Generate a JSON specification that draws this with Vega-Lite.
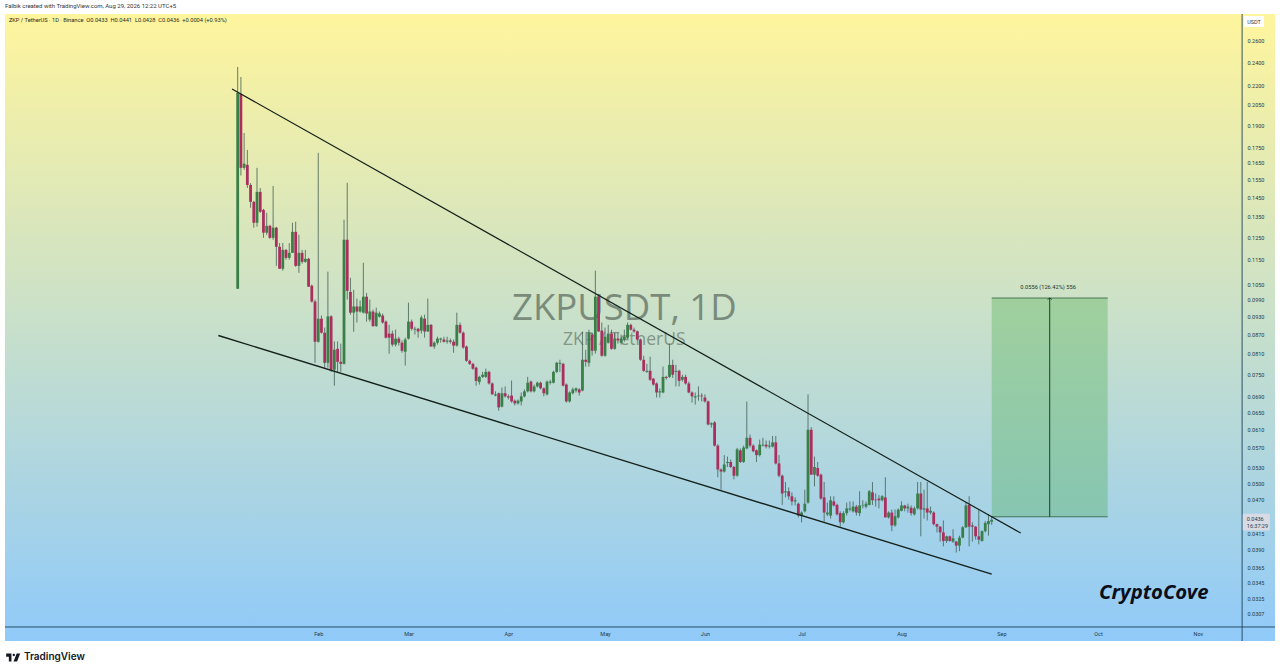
{
  "$schema": "https://vega.github.io/schema/vega-lite/v6.json",
  "description": "ZKP / TetherUS daily candles with a falling wedge and a target box.",
  "background": "#ffffff",
  "autosize": {"type": "none"},
  "padding": {"left": 5, "right": 5, "top": 14, "bottom": 30},
  "width": 1270,
  "height": 627,
  "title": {
    "text": "Falbik created with TradingView.com, Aug 29, 2026 12:22 UTC+5",
    "anchor": "start",
    "frame": "group",
    "offset": 5,
    "fontSize": 6,
    "fontWeight": "normal",
    "font": "Roboto",
    "color": "#333333"
  },
  "config": {"view": {"stroke": "transparent"}},
  "datasets": {
    "candles": [
      {"d":"2026-01-07","o":0.1032,"h":0.2360,"l":0.1032,"c":0.2142},
      {"d":"2026-01-08","o":0.2134,"h":0.2273,"l":0.1574,"c":0.1620},
      {"d":"2026-01-09","o":0.1620,"h":0.1845,"l":0.1608,"c":0.1645},
      {"d":"2026-01-10","o":0.1638,"h":0.1732,"l":0.1503,"c":0.1520},
      {"d":"2026-01-11","o":0.1520,"h":0.1530,"l":0.1396,"c":0.1427},
      {"d":"2026-01-12","o":0.1427,"h":0.1432,"l":0.1296,"c":0.1320},
      {"d":"2026-01-13","o":0.1320,"h":0.1620,"l":0.1301,"c":0.1481},
      {"d":"2026-01-14","o":0.1481,"h":0.1503,"l":0.1370,"c":0.1375},
      {"d":"2026-01-15","o":0.1385,"h":0.1390,"l":0.1248,"c":0.1272},
      {"d":"2026-01-16","o":0.1272,"h":0.1370,"l":0.1262,"c":0.1305},
      {"d":"2026-01-17","o":0.1305,"h":0.1310,"l":0.1243,"c":0.1248},
      {"d":"2026-01-18","o":0.1248,"h":0.1514,"l":0.1239,"c":0.1296},
      {"d":"2026-01-19","o":0.1296,"h":0.1300,"l":0.1124,"c":0.1207},
      {"d":"2026-01-20","o":0.1207,"h":0.1224,"l":0.1112,"c":0.1112},
      {"d":"2026-01-21","o":0.1112,"h":0.1224,"l":0.1104,"c":0.1193},
      {"d":"2026-01-22","o":0.1193,"h":0.1197,"l":0.1150,"c":0.1158},
      {"d":"2026-01-23","o":0.1158,"h":0.1224,"l":0.1150,"c":0.1180},
      {"d":"2026-01-24","o":0.1180,"h":0.1320,"l":0.1180,"c":0.1276},
      {"d":"2026-01-25","o":0.1276,"h":0.1325,"l":0.1120,"c":0.1124},
      {"d":"2026-01-26","o":0.1124,"h":0.1262,"l":0.1095,"c":0.1180},
      {"d":"2026-01-27","o":0.1180,"h":0.1193,"l":0.1133,"c":0.1141},
      {"d":"2026-01-28","o":0.1141,"h":0.1193,"l":0.1137,"c":0.1154},
      {"d":"2026-01-29","o":0.1154,"h":0.1158,"l":0.1040,"c":0.1040},
      {"d":"2026-01-30","o":0.1044,"h":0.1048,"l":0.0980,"c":0.0984},
      {"d":"2026-01-31","o":0.0984,"h":0.0991,"l":0.0783,"c":0.0847},
      {"d":"2026-02-01","o":0.0847,"h":0.1713,"l":0.0844,"c":0.0923},
      {"d":"2026-02-02","o":0.0923,"h":0.0934,"l":0.0873,"c":0.0876},
      {"d":"2026-02-03","o":0.0876,"h":0.0893,"l":0.0769,"c":0.0783},
      {"d":"2026-02-04","o":0.0783,"h":0.1100,"l":0.0769,"c":0.0931},
      {"d":"2026-02-05","o":0.0931,"h":0.0935,"l":0.0757,"c":0.0763},
      {"d":"2026-02-06","o":0.0763,"h":0.0848,"l":0.0719,"c":0.0822},
      {"d":"2026-02-07","o":0.0825,"h":0.0848,"l":0.0757,"c":0.0786},
      {"d":"2026-02-08","o":0.0786,"h":0.0841,"l":0.0757,"c":0.0780},
      {"d":"2026-02-09","o":0.0780,"h":0.1335,"l":0.0778,"c":0.1239},
      {"d":"2026-02-10","o":0.1239,"h":0.1532,"l":0.0991,"c":0.1024},
      {"d":"2026-02-11","o":0.1020,"h":0.1075,"l":0.0937,"c":0.0944},
      {"d":"2026-02-12","o":0.0944,"h":0.1028,"l":0.0879,"c":0.0966},
      {"d":"2026-02-13","o":0.0966,"h":0.0995,"l":0.0910,"c":0.0948},
      {"d":"2026-02-14","o":0.0948,"h":0.0988,"l":0.0944,"c":0.0966},
      {"d":"2026-02-15","o":0.0944,"h":0.1137,"l":0.0941,"c":0.1002},
      {"d":"2026-02-16","o":0.1002,"h":0.1016,"l":0.0913,"c":0.0941},
      {"d":"2026-02-17","o":0.0920,"h":0.0991,"l":0.0913,"c":0.0948},
      {"d":"2026-02-18","o":0.0948,"h":0.0955,"l":0.0895,"c":0.0898},
      {"d":"2026-02-19","o":0.0898,"h":0.0962,"l":0.0895,"c":0.0944},
      {"d":"2026-02-20","o":0.0930,"h":0.0948,"l":0.0927,"c":0.0941},
      {"d":"2026-02-21","o":0.0934,"h":0.0941,"l":0.0906,"c":0.0910},
      {"d":"2026-02-22","o":0.0913,"h":0.0917,"l":0.0857,"c":0.0860},
      {"d":"2026-02-23","o":0.0873,"h":0.0902,"l":0.0810,"c":0.0860},
      {"d":"2026-02-24","o":0.0873,"h":0.0883,"l":0.0832,"c":0.0838},
      {"d":"2026-02-25","o":0.0838,"h":0.0886,"l":0.0832,"c":0.0857},
      {"d":"2026-02-26","o":0.0857,"h":0.0863,"l":0.0835,"c":0.0844},
      {"d":"2026-02-27","o":0.0844,"h":0.0851,"l":0.0813,"c":0.0819},
      {"d":"2026-02-28","o":0.0816,"h":0.0860,"l":0.0775,"c":0.0854},
      {"d":"2026-03-01","o":0.0857,"h":0.0980,"l":0.0854,"c":0.0913},
      {"d":"2026-03-02","o":0.0913,"h":0.0920,"l":0.0883,"c":0.0889},
      {"d":"2026-03-03","o":0.0886,"h":0.0896,"l":0.0870,"c":0.0889},
      {"d":"2026-03-04","o":0.0889,"h":0.0892,"l":0.0860,"c":0.0880},
      {"d":"2026-03-05","o":0.0883,"h":0.0934,"l":0.0873,"c":0.0927},
      {"d":"2026-03-06","o":0.0923,"h":0.0937,"l":0.0860,"c":0.0880},
      {"d":"2026-03-07","o":0.0880,"h":0.0995,"l":0.0879,"c":0.0902},
      {"d":"2026-03-08","o":0.0902,"h":0.0905,"l":0.0832,"c":0.0832},
      {"d":"2026-03-09","o":0.0832,"h":0.0848,"l":0.0825,"c":0.0844},
      {"d":"2026-03-10","o":0.0844,"h":0.0863,"l":0.0838,"c":0.0857},
      {"d":"2026-03-11","o":0.0854,"h":0.0860,"l":0.0844,"c":0.0857},
      {"d":"2026-03-12","o":0.0854,"h":0.0863,"l":0.0844,"c":0.0847},
      {"d":"2026-03-13","o":0.0847,"h":0.0863,"l":0.0841,"c":0.0851},
      {"d":"2026-03-14","o":0.0851,"h":0.0857,"l":0.0841,"c":0.0847},
      {"d":"2026-03-15","o":0.0847,"h":0.0854,"l":0.0813,"c":0.0835},
      {"d":"2026-03-16","o":0.0835,"h":0.0944,"l":0.0832,"c":0.0902},
      {"d":"2026-03-17","o":0.0902,"h":0.0910,"l":0.0873,"c":0.0876},
      {"d":"2026-03-18","o":0.0876,"h":0.0880,"l":0.0825,"c":0.0829},
      {"d":"2026-03-19","o":0.0832,"h":0.0835,"l":0.0786,"c":0.0789},
      {"d":"2026-03-20","o":0.0789,"h":0.0792,"l":0.0777,"c":0.0780},
      {"d":"2026-03-21","o":0.0780,"h":0.0783,"l":0.0763,"c":0.0766},
      {"d":"2026-03-22","o":0.0769,"h":0.0772,"l":0.0719,"c":0.0732},
      {"d":"2026-03-23","o":0.0729,"h":0.0746,"l":0.0722,"c":0.0743},
      {"d":"2026-03-24","o":0.0743,"h":0.0757,"l":0.0740,"c":0.0749},
      {"d":"2026-03-25","o":0.0743,"h":0.0766,"l":0.0740,"c":0.0757},
      {"d":"2026-03-26","o":0.0757,"h":0.0760,"l":0.0722,"c":0.0725},
      {"d":"2026-03-27","o":0.0725,"h":0.0728,"l":0.0696,"c":0.0696},
      {"d":"2026-03-28","o":0.0693,"h":0.0704,"l":0.0691,"c":0.0696},
      {"d":"2026-03-29","o":0.0699,"h":0.0701,"l":0.0655,"c":0.0663},
      {"d":"2026-03-30","o":0.0665,"h":0.0714,"l":0.0663,"c":0.0699},
      {"d":"2026-03-31","o":0.0699,"h":0.0717,"l":0.0688,"c":0.0691},
      {"d":"2026-04-01","o":0.0691,"h":0.0696,"l":0.0683,"c":0.0688},
      {"d":"2026-04-02","o":0.0693,"h":0.0733,"l":0.0675,"c":0.0678},
      {"d":"2026-04-03","o":0.0680,"h":0.0683,"l":0.0668,"c":0.0673},
      {"d":"2026-04-04","o":0.0673,"h":0.0683,"l":0.0670,"c":0.0680},
      {"d":"2026-04-05","o":0.0678,"h":0.0701,"l":0.0668,"c":0.0691},
      {"d":"2026-04-06","o":0.0691,"h":0.0709,"l":0.0688,"c":0.0704},
      {"d":"2026-04-07","o":0.0704,"h":0.0743,"l":0.0701,"c":0.0727},
      {"d":"2026-04-08","o":0.0730,"h":0.0733,"l":0.0701,"c":0.0704},
      {"d":"2026-04-09","o":0.0704,"h":0.0722,"l":0.0701,"c":0.0717},
      {"d":"2026-04-10","o":0.0717,"h":0.0730,"l":0.0714,"c":0.0727},
      {"d":"2026-04-11","o":0.0727,"h":0.0730,"l":0.0709,"c":0.0712},
      {"d":"2026-04-12","o":0.0712,"h":0.0714,"l":0.0691,"c":0.0699},
      {"d":"2026-04-13","o":0.0696,"h":0.0733,"l":0.0693,"c":0.0730},
      {"d":"2026-04-14","o":0.0727,"h":0.0735,"l":0.0722,"c":0.0730},
      {"d":"2026-04-15","o":0.0727,"h":0.0760,"l":0.0725,"c":0.0757},
      {"d":"2026-04-16","o":0.0757,"h":0.0786,"l":0.0754,"c":0.0783},
      {"d":"2026-04-17","o":0.0780,"h":0.0792,"l":0.0757,"c":0.0783},
      {"d":"2026-04-18","o":0.0780,"h":0.0783,"l":0.0717,"c":0.0719},
      {"d":"2026-04-19","o":0.0722,"h":0.0725,"l":0.0675,"c":0.0678},
      {"d":"2026-04-20","o":0.0678,"h":0.0704,"l":0.0675,"c":0.0701},
      {"d":"2026-04-21","o":0.0699,"h":0.0714,"l":0.0696,"c":0.0709},
      {"d":"2026-04-22","o":0.0706,"h":0.0714,"l":0.0701,"c":0.0712},
      {"d":"2026-04-23","o":0.0709,"h":0.0712,"l":0.0693,"c":0.0701},
      {"d":"2026-04-24","o":0.0706,"h":0.0880,"l":0.0704,"c":0.0792},
      {"d":"2026-04-25","o":0.0792,"h":0.0822,"l":0.0772,"c":0.0786},
      {"d":"2026-04-26","o":0.0783,"h":0.0886,"l":0.0772,"c":0.0876},
      {"d":"2026-04-27","o":0.0870,"h":0.0876,"l":0.0804,"c":0.0819},
      {"d":"2026-04-28","o":0.0819,"h":0.1104,"l":0.0810,"c":0.1002},
      {"d":"2026-04-29","o":0.1002,"h":0.1006,"l":0.0879,"c":0.0880},
      {"d":"2026-04-30","o":0.0883,"h":0.0910,"l":0.0801,"c":0.0804},
      {"d":"2026-05-01","o":0.0804,"h":0.0893,"l":0.0801,"c":0.0863},
      {"d":"2026-05-02","o":0.0844,"h":0.0902,"l":0.0841,"c":0.0873},
      {"d":"2026-05-03","o":0.0873,"h":0.0886,"l":0.0822,"c":0.0825},
      {"d":"2026-05-04","o":0.0825,"h":0.0876,"l":0.0822,"c":0.0857},
      {"d":"2026-05-05","o":0.0857,"h":0.0876,"l":0.0841,"c":0.0851},
      {"d":"2026-05-06","o":0.0844,"h":0.0870,"l":0.0838,"c":0.0857},
      {"d":"2026-05-07","o":0.0854,"h":0.0886,"l":0.0847,"c":0.0863},
      {"d":"2026-05-08","o":0.0860,"h":0.0910,"l":0.0857,"c":0.0902},
      {"d":"2026-05-09","o":0.0902,"h":0.0906,"l":0.0883,"c":0.0886},
      {"d":"2026-05-10","o":0.0886,"h":0.0893,"l":0.0876,"c":0.0880},
      {"d":"2026-05-11","o":0.0880,"h":0.0883,"l":0.0851,"c":0.0854},
      {"d":"2026-05-12","o":0.0854,"h":0.0857,"l":0.0789,"c":0.0792},
      {"d":"2026-05-13","o":0.0792,"h":0.0804,"l":0.0757,"c":0.0760},
      {"d":"2026-05-14","o":0.0757,"h":0.0780,"l":0.0754,"c":0.0760},
      {"d":"2026-05-15","o":0.0760,"h":0.0801,"l":0.0732,"c":0.0735},
      {"d":"2026-05-16","o":0.0738,"h":0.0740,"l":0.0719,"c":0.0722},
      {"d":"2026-05-17","o":0.0725,"h":0.0728,"l":0.0688,"c":0.0701},
      {"d":"2026-05-18","o":0.0701,"h":0.0712,"l":0.0688,"c":0.0704},
      {"d":"2026-05-19","o":0.0701,"h":0.0772,"l":0.0699,"c":0.0743},
      {"d":"2026-05-20","o":0.0743,"h":0.0746,"l":0.0735,"c":0.0740},
      {"d":"2026-05-21","o":0.0743,"h":0.0841,"l":0.0740,"c":0.0777},
      {"d":"2026-05-22","o":0.0777,"h":0.0792,"l":0.0740,"c":0.0749},
      {"d":"2026-05-23","o":0.0757,"h":0.0777,"l":0.0717,"c":0.0760},
      {"d":"2026-05-24","o":0.0760,"h":0.0763,"l":0.0717,"c":0.0732},
      {"d":"2026-05-25","o":0.0735,"h":0.0749,"l":0.0730,"c":0.0743},
      {"d":"2026-05-26","o":0.0743,"h":0.0749,"l":0.0722,"c":0.0725},
      {"d":"2026-05-27","o":0.0725,"h":0.0730,"l":0.0699,"c":0.0701},
      {"d":"2026-05-28","o":0.0701,"h":0.0704,"l":0.0675,"c":0.0691},
      {"d":"2026-05-29","o":0.0688,"h":0.0701,"l":0.0670,"c":0.0691},
      {"d":"2026-05-30","o":0.0691,"h":0.0717,"l":0.0680,"c":0.0693},
      {"d":"2026-05-31","o":0.0693,"h":0.0699,"l":0.0678,"c":0.0691},
      {"d":"2026-06-01","o":0.0688,"h":0.0696,"l":0.0675,"c":0.0678},
      {"d":"2026-06-02","o":0.0678,"h":0.0680,"l":0.0620,"c":0.0622},
      {"d":"2026-06-03","o":0.0622,"h":0.0627,"l":0.0615,"c":0.0625},
      {"d":"2026-06-04","o":0.0627,"h":0.0630,"l":0.0573,"c":0.0575},
      {"d":"2026-06-05","o":0.0575,"h":0.0578,"l":0.0511,"c":0.0526},
      {"d":"2026-06-06","o":0.0526,"h":0.0528,"l":0.0488,"c":0.0522},
      {"d":"2026-06-07","o":0.0522,"h":0.0555,"l":0.0520,"c":0.0536},
      {"d":"2026-06-08","o":0.0539,"h":0.0552,"l":0.0531,"c":0.0541},
      {"d":"2026-06-09","o":0.0541,"h":0.0546,"l":0.0529,"c":0.0531},
      {"d":"2026-06-10","o":0.0531,"h":0.0533,"l":0.0507,"c":0.0514},
      {"d":"2026-06-11","o":0.0514,"h":0.0570,"l":0.0512,"c":0.0567},
      {"d":"2026-06-12","o":0.0565,"h":0.0569,"l":0.0539,"c":0.0541},
      {"d":"2026-06-13","o":0.0541,"h":0.0575,"l":0.0539,"c":0.0571},
      {"d":"2026-06-14","o":0.0569,"h":0.0678,"l":0.0567,"c":0.0592},
      {"d":"2026-06-15","o":0.0592,"h":0.0599,"l":0.0571,"c":0.0575},
      {"d":"2026-06-16","o":0.0575,"h":0.0578,"l":0.0561,"c":0.0563},
      {"d":"2026-06-17","o":0.0565,"h":0.0567,"l":0.0541,"c":0.0555},
      {"d":"2026-06-18","o":0.0555,"h":0.0588,"l":0.0552,"c":0.0577},
      {"d":"2026-06-19","o":0.0575,"h":0.0592,"l":0.0573,"c":0.0577},
      {"d":"2026-06-20","o":0.0577,"h":0.0586,"l":0.0569,"c":0.0573},
      {"d":"2026-06-21","o":0.0573,"h":0.0586,"l":0.0569,"c":0.0575},
      {"d":"2026-06-22","o":0.0573,"h":0.0596,"l":0.0571,"c":0.0582},
      {"d":"2026-06-23","o":0.0582,"h":0.0596,"l":0.0536,"c":0.0538},
      {"d":"2026-06-24","o":0.0538,"h":0.0555,"l":0.0511,"c":0.0514},
      {"d":"2026-06-25","o":0.0514,"h":0.0516,"l":0.0461,"c":0.0481},
      {"d":"2026-06-26","o":0.0483,"h":0.0502,"l":0.0474,"c":0.0485},
      {"d":"2026-06-27","o":0.0485,"h":0.0492,"l":0.0470,"c":0.0476},
      {"d":"2026-06-28","o":0.0476,"h":0.0483,"l":0.0460,"c":0.0467},
      {"d":"2026-06-29","o":0.0467,"h":0.0474,"l":0.0460,"c":0.0469},
      {"d":"2026-06-30","o":0.0463,"h":0.0465,"l":0.0440,"c":0.0443},
      {"d":"2026-07-01","o":0.0443,"h":0.0450,"l":0.0432,"c":0.0448},
      {"d":"2026-07-02","o":0.0450,"h":0.0488,"l":0.0448,"c":0.0463},
      {"d":"2026-07-03","o":0.0465,"h":0.0696,"l":0.0463,"c":0.0610},
      {"d":"2026-07-04","o":0.0610,"h":0.0616,"l":0.0516,"c":0.0516},
      {"d":"2026-07-05","o":0.0516,"h":0.0552,"l":0.0494,"c":0.0531},
      {"d":"2026-07-06","o":0.0529,"h":0.0541,"l":0.0512,"c":0.0514},
      {"d":"2026-07-07","o":0.0516,"h":0.0518,"l":0.0470,"c":0.0472},
      {"d":"2026-07-08","o":0.0474,"h":0.0502,"l":0.0433,"c":0.0448},
      {"d":"2026-07-09","o":0.0445,"h":0.0465,"l":0.0442,"c":0.0448},
      {"d":"2026-07-10","o":0.0443,"h":0.0476,"l":0.0438,"c":0.0469},
      {"d":"2026-07-11","o":0.0467,"h":0.0476,"l":0.0458,"c":0.0460},
      {"d":"2026-07-12","o":0.0461,"h":0.0463,"l":0.0443,"c":0.0445},
      {"d":"2026-07-13","o":0.0447,"h":0.0450,"l":0.0425,"c":0.0432},
      {"d":"2026-07-14","o":0.0432,"h":0.0450,"l":0.0430,"c":0.0447},
      {"d":"2026-07-15","o":0.0447,"h":0.0465,"l":0.0443,"c":0.0455},
      {"d":"2026-07-16","o":0.0453,"h":0.0467,"l":0.0450,"c":0.0455},
      {"d":"2026-07-17","o":0.0450,"h":0.0467,"l":0.0448,"c":0.0458},
      {"d":"2026-07-18","o":0.0458,"h":0.0461,"l":0.0443,"c":0.0448},
      {"d":"2026-07-19","o":0.0447,"h":0.0485,"l":0.0442,"c":0.0460},
      {"d":"2026-07-20","o":0.0460,"h":0.0469,"l":0.0455,"c":0.0461},
      {"d":"2026-07-21","o":0.0458,"h":0.0467,"l":0.0455,"c":0.0463},
      {"d":"2026-07-22","o":0.0461,"h":0.0487,"l":0.0460,"c":0.0485},
      {"d":"2026-07-23","o":0.0483,"h":0.0502,"l":0.0461,"c":0.0469},
      {"d":"2026-07-24","o":0.0470,"h":0.0481,"l":0.0458,"c":0.0469},
      {"d":"2026-07-25","o":0.0472,"h":0.0478,"l":0.0455,"c":0.0469},
      {"d":"2026-07-26","o":0.0469,"h":0.0478,"l":0.0467,"c":0.0476},
      {"d":"2026-07-27","o":0.0474,"h":0.0511,"l":0.0440,"c":0.0440},
      {"d":"2026-07-28","o":0.0440,"h":0.0450,"l":0.0438,"c":0.0448},
      {"d":"2026-07-29","o":0.0448,"h":0.0453,"l":0.0418,"c":0.0427},
      {"d":"2026-07-30","o":0.0427,"h":0.0453,"l":0.0425,"c":0.0442},
      {"d":"2026-07-31","o":0.0440,"h":0.0455,"l":0.0438,"c":0.0453},
      {"d":"2026-08-01","o":0.0451,"h":0.0467,"l":0.0450,"c":0.0460},
      {"d":"2026-08-02","o":0.0460,"h":0.0461,"l":0.0450,"c":0.0455},
      {"d":"2026-08-03","o":0.0455,"h":0.0463,"l":0.0448,"c":0.0458},
      {"d":"2026-08-04","o":0.0456,"h":0.0460,"l":0.0443,"c":0.0447},
      {"d":"2026-08-05","o":0.0445,"h":0.0458,"l":0.0443,"c":0.0455},
      {"d":"2026-08-06","o":0.0455,"h":0.0502,"l":0.0453,"c":0.0481},
      {"d":"2026-08-07","o":0.0481,"h":0.0502,"l":0.0410,"c":0.0453},
      {"d":"2026-08-08","o":0.0453,"h":0.0488,"l":0.0438,"c":0.0455},
      {"d":"2026-08-09","o":0.0455,"h":0.0502,"l":0.0435,"c":0.0448},
      {"d":"2026-08-10","o":0.0448,"h":0.0458,"l":0.0445,"c":0.0451},
      {"d":"2026-08-11","o":0.0448,"h":0.0450,"l":0.0427,"c":0.0429},
      {"d":"2026-08-12","o":0.0429,"h":0.0430,"l":0.0416,"c":0.0425},
      {"d":"2026-08-13","o":0.0425,"h":0.0426,"l":0.0402,"c":0.0416},
      {"d":"2026-08-14","o":0.0416,"h":0.0435,"l":0.0395,"c":0.0403},
      {"d":"2026-08-15","o":0.0403,"h":0.0411,"l":0.0400,"c":0.0410},
      {"d":"2026-08-16","o":0.0410,"h":0.0411,"l":0.0402,"c":0.0403},
      {"d":"2026-08-17","o":0.0402,"h":0.0421,"l":0.0400,"c":0.0407},
      {"d":"2026-08-18","o":0.0402,"h":0.0403,"l":0.0386,"c":0.0396},
      {"d":"2026-08-19","o":0.0396,"h":0.0411,"l":0.0388,"c":0.0408},
      {"d":"2026-08-20","o":0.0408,"h":0.0426,"l":0.0407,"c":0.0424},
      {"d":"2026-08-21","o":0.0424,"h":0.0465,"l":0.0423,"c":0.0460},
      {"d":"2026-08-22","o":0.0461,"h":0.0476,"l":0.0395,"c":0.0425},
      {"d":"2026-08-23","o":0.0427,"h":0.0432,"l":0.0402,"c":0.0425},
      {"d":"2026-08-24","o":0.0425,"h":0.0426,"l":0.0405,"c":0.0410},
      {"d":"2026-08-25","o":0.0410,"h":0.0453,"l":0.0398,"c":0.0405},
      {"d":"2026-08-26","o":0.0403,"h":0.0419,"l":0.0402,"c":0.0418},
      {"d":"2026-08-27","o":0.0418,"h":0.0434,"l":0.0416,"c":0.0431},
      {"d":"2026-08-28","o":0.0429,"h":0.0445,"l":0.0411,"c":0.0434},
      {"d":"2026-08-29","o":0.0433,"h":0.0441,"l":0.0428,"c":0.0436}
    ]
  },
  "layer": [
    {
      "data": {"values": [{"start": "2025-10-26T19:00:00Z", "end": "2026-11-24T22:00:00Z", "top": 0.2875, "bottom": 0.02775}]},
      "mark": {
        "type": "rect",
        "fill": {
          "gradient": "linear", "x1": 0, "y1": 0, "x2": 0, "y2": 1,
          "stops": [{"offset": 0, "color": "#fff59d"}, {"offset": 1, "color": "#90caf9"}]
        }
      },
      "encoding": {
        "x": {
          "field": "start", "type": "temporal",
          "scale": {"type": "utc", "nice": false, "padding": 0, "domain": ["2025-10-26T19:00:00Z", "2026-11-24T22:00:00Z"]},
          "axis": {
            "title": null, "orient": "bottom", "offset": -14, "grid": false, "domain": false, "ticks": false, "zindex": 1,
            "labelExpr": "utcFormat(datum.value, '%b')", "labelFont": "Roboto", "labelFontSize": 5.5, "labelColor": "#1e3a4c", "labelPadding": 4,
            "values": [
              {"year": 2026, "month": "feb", "date": 1, "utc": true},
              {"year": 2026, "month": "mar", "date": 1, "utc": true},
              {"year": 2026, "month": "apr", "date": 1, "utc": true},
              {"year": 2026, "month": "may", "date": 1, "utc": true},
              {"year": 2026, "month": "jun", "date": 1, "utc": true},
              {"year": 2026, "month": "jul", "date": 1, "utc": true},
              {"year": 2026, "month": "aug", "date": 1, "utc": true},
              {"year": 2026, "month": "sep", "date": 1, "utc": true},
              {"year": 2026, "month": "oct", "date": 1, "utc": true},
              {"year": 2026, "month": "nov", "date": 1, "utc": true}
            ]
          }
        },
        "x2": {"field": "end"},
        "y": {
          "field": "top", "type": "quantitative",
          "scale": {"type": "log", "nice": false, "domain": [0.02775, 0.2875]},
          "axis": {
            "title": null, "orient": "right", "offset": -33, "grid": false, "domain": false, "ticks": false, "zindex": 1,
            "format": ".4f", "labelFont": "Roboto", "labelFontSize": 5.5, "labelColor": "#1e3a4c", "labelPadding": 5,
            "values": [0.26, 0.24, 0.22, 0.205, 0.19, 0.175, 0.165, 0.155, 0.145, 0.135, 0.125, 0.115, 0.105, 0.099, 0.093, 0.087, 0.081, 0.075, 0.069, 0.065, 0.061, 0.057, 0.053, 0.05, 0.047, 0.0415, 0.039, 0.0365, 0.0345, 0.0325, 0.0307]
          }
        },
        "y2": {"field": "bottom"}
      }
    },
    {
      "data": {"values": [{"date": "2026-05-07", "price": 0.0958, "label": "ZKPUSDT, 1D"}]},
      "mark": {"type": "text", "align": "center", "baseline": "middle", "font": "Open Sans", "fontSize": 36.5, "fontWeight": 500, "color": "#5f6f62", "opacity": 0.75},
      "encoding": {"x": {"field": "date", "type": "temporal"}, "y": {"field": "price", "type": "quantitative"}, "text": {"field": "label"}}
    },
    {
      "data": {"values": [{"date": "2026-05-07", "price": 0.0851, "label": "ZKP / TetherUS"}]},
      "mark": {"type": "text", "align": "center", "baseline": "middle", "font": "Open Sans", "fontSize": 17.5, "color": "#5f6f62", "opacity": 0.65},
      "encoding": {"x": {"field": "date", "type": "temporal"}, "y": {"field": "price", "type": "quantitative"}, "text": {"field": "label"}}
    },
    {
      "data": {"values": [{"from": "2026-08-29", "to": "2026-10-04", "low": 0.0441, "high": 0.0997}]},
      "mark": {"type": "rect", "color": "#4caf50", "opacity": 0.35},
      "encoding": {
        "x": {"field": "from", "type": "temporal"}, "x2": {"field": "to"},
        "y": {"field": "high", "type": "quantitative"}, "y2": {"field": "low"}
      }
    },
    {
      "data": {"values": [{"from": "2026-08-29", "to": "2026-10-04", "price": 0.0441}, {"from": "2026-08-29", "to": "2026-10-04", "price": 0.0997}]},
      "mark": {"type": "rule", "color": "#2f5f3a", "strokeWidth": 0.8},
      "encoding": {
        "x": {"field": "from", "type": "temporal"}, "x2": {"field": "to"},
        "y": {"field": "price", "type": "quantitative"}
      }
    },
    {
      "data": {"values": [{"date": "2026-09-16", "low": 0.0441, "high": 0.0997}]},
      "mark": {"type": "rule", "color": "#1f3a2a", "strokeWidth": 1},
      "encoding": {
        "x": {"field": "date", "type": "temporal"},
        "y": {"field": "low", "type": "quantitative"}, "y2": {"field": "high"}
      }
    },
    {
      "data": {"values": [{"date": "2026-09-16", "price": 0.0997}]},
      "mark": {"type": "point", "shape": "M-1,0.7L0,0L1,0.7", "size": 20, "filled": false, "color": "#1f3a2a", "strokeWidth": 0.8, "opacity": 1},
      "encoding": {"x": {"field": "date", "type": "temporal"}, "y": {"field": "price", "type": "quantitative"}}
    },
    {
      "data": {"values": [{"date": "2026-09-15T12:00:00Z", "price": 0.104, "label": "0.0556 (126.42%) 556"}]},
      "mark": {"type": "text", "align": "center", "baseline": "middle", "font": "Roboto", "fontSize": 5.7, "color": "#24352c"},
      "encoding": {"x": {"field": "date", "type": "temporal"}, "y": {"field": "price", "type": "quantitative"}, "text": {"field": "label"}}
    },
    {
      "data": {"name": "candles"},
      "mark": {"type": "rule", "color": "#3e5a50", "strokeWidth": 0.9, "opacity": 0.85},
      "encoding": {
        "x": {"field": "d", "type": "temporal"},
        "y": {"field": "l", "type": "quantitative"}, "y2": {"field": "h"}
      }
    },
    {
      "data": {"name": "candles"},
      "mark": {"type": "bar", "size": 2.8},
      "encoding": {
        "x": {"field": "d", "type": "temporal"},
        "y": {"field": "o", "type": "quantitative"}, "y2": {"field": "c"},
        "color": {
          "condition": {"test": "datum.c >= datum.o", "value": "#3a7f48"},
          "value": "#ab2f5e"
        }
      }
    },
    {
      "data": {"values": [{"date": "2026-01-05T06:00:00Z", "price": 0.2174}, {"date": "2026-09-07", "price": 0.0415}]},
      "mark": {"type": "line", "color": "#14201a", "strokeWidth": 1.2},
      "encoding": {"x": {"field": "date", "type": "temporal"}, "y": {"field": "price", "type": "quantitative"}}
    },
    {
      "data": {"values": [{"date": "2026-01-01", "price": 0.0867}, {"date": "2026-08-29", "price": 0.0356}]},
      "mark": {"type": "line", "color": "#14201a", "strokeWidth": 1.4},
      "encoding": {"x": {"field": "date", "type": "temporal"}, "y": {"field": "price", "type": "quantitative"}}
    },
    {
      "data": {"values": [{"date": "2026-11-14T17:00:00Z", "top": 0.2875, "bottom": 0.02775}]},
      "mark": {"type": "rule", "color": "#1c3f5a", "strokeWidth": 0.9},
      "encoding": {
        "x": {"field": "date", "type": "temporal"},
        "y": {"field": "top", "type": "quantitative"}, "y2": {"field": "bottom"}
      }
    },
    {
      "data": {"values": [{"from": "2025-10-26T19:00:00Z", "to": "2026-11-24T22:00:00Z", "price": 0.02924}]},
      "mark": {"type": "rule", "color": "#1c3f5a", "strokeWidth": 0.9},
      "encoding": {
        "x": {"field": "from", "type": "temporal"}, "x2": {"field": "to"},
        "y": {"field": "price", "type": "quantitative"}
      }
    },
    {
      "data": {"values": [{"from": "2026-11-15T08:00:00Z", "to": "2026-11-21T12:00:00Z", "top": 0.2854, "bottom": 0.2739}]},
      "mark": {"type": "rect", "color": "#ffffff", "cornerRadius": 1},
      "encoding": {
        "x": {"field": "from", "type": "temporal"}, "x2": {"field": "to"},
        "y": {"field": "top", "type": "quantitative"}, "y2": {"field": "bottom"}
      }
    },
    {
      "data": {"values": [{"date": "2026-11-18T10:00:00Z", "price": 0.2795, "label": "USDT"}]},
      "mark": {"type": "text", "align": "center", "baseline": "middle", "font": "Roboto", "fontSize": 5.5, "color": "#333a40"},
      "encoding": {"x": {"field": "date", "type": "temporal"}, "y": {"field": "price", "type": "quantitative"}, "text": {"field": "label"}}
    },
    {
      "data": {"values": [{"from": "2026-11-14T22:00:00Z", "to": "2026-11-23T08:00:00Z", "top": 0.0446, "bottom": 0.0419}]},
      "mark": {"type": "rect", "color": "#d8dbe4", "cornerRadius": 1},
      "encoding": {
        "x": {"field": "from", "type": "temporal"}, "x2": {"field": "to"},
        "y": {"field": "top", "type": "quantitative"}, "y2": {"field": "bottom"}
      }
    },
    {
      "data": {"values": [{"date": "2026-11-16T04:00:00Z", "price": 0.0437, "label": "0.0436"}, {"date": "2026-11-16T04:00:00Z", "price": 0.0426, "label": "16:37:29"}]},
      "mark": {"type": "text", "align": "left", "baseline": "middle", "font": "Roboto", "fontSize": 5.5, "color": "#2b3a48"},
      "encoding": {"x": {"field": "date", "type": "temporal"}, "y": {"field": "price", "type": "quantitative"}, "text": {"field": "label"}}
    },
    {
      "data": {"values": [{"date": "2025-10-28T00:00:00Z", "price": 0.2812, "label": "ZKP / TetherUS · 1D · Binance\u00a0\u00a0O0.0433\u00a0\u00a0H0.0441\u00a0\u00a0L0.0428\u00a0\u00a0C0.0436\u00a0\u00a0+0.0004 (+0.93%)"}]},
      "mark": {"type": "text", "align": "left", "baseline": "middle", "font": "Roboto", "fontSize": 5.7, "color": "#2a2a20"},
      "encoding": {"x": {"field": "date", "type": "temporal"}, "y": {"field": "price", "type": "quantitative"}, "text": {"field": "label"}}
    },
    {
      "data": {"values": [{"date": "2026-10-01T08:00:00Z", "price": 0.0332, "label": "CryptoCove"}]},
      "mark": {"type": "text", "align": "left", "baseline": "middle", "font": "Noto Sans", "fontSize": 20.3, "fontStyle": "italic", "fontWeight": "bold", "color": "#0b0f1a"},
      "encoding": {"x": {"field": "date", "type": "temporal"}, "y": {"field": "price", "type": "quantitative"}, "text": {"field": "label"}}
    },
    {
      "data": {"values": [{"date": "2025-10-29T08:00:00Z", "price": 0.0261}]},
      "mark": {"type": "point", "shape": "M-1,-0.57H-0.25V0.57H-0.62V-0.1H-1ZM-0.08,-0.35A0.17,0.17,0,1,0,0.26,-0.35A0.17,0.17,0,1,0,-0.08,-0.35ZM0.5,-0.57H1L0.55,0.57H0.05Z", "size": 196, "filled": true, "color": "#131722", "opacity": 1},
      "encoding": {
        "x": {"field": "date", "type": "temporal"},
        "y": {"field": "price", "type": "quantitative", "scale": {"type": "log", "nice": false, "domain": [0.02775, 0.2875]}}
      }
    },
    {
      "data": {"values": [{"date": "2025-11-01T16:00:00Z", "price": 0.0261, "label": "TradingView"}]},
      "mark": {"type": "text", "align": "left", "baseline": "middle", "font": "Inter", "fontSize": 10, "fontWeight": 600, "color": "#131722"},
      "encoding": {
        "x": {"field": "date", "type": "temporal"},
        "y": {"field": "price", "type": "quantitative", "scale": {"type": "log", "nice": false, "domain": [0.02775, 0.2875]}},
        "text": {"field": "label"}
      }
    }
  ]
}
